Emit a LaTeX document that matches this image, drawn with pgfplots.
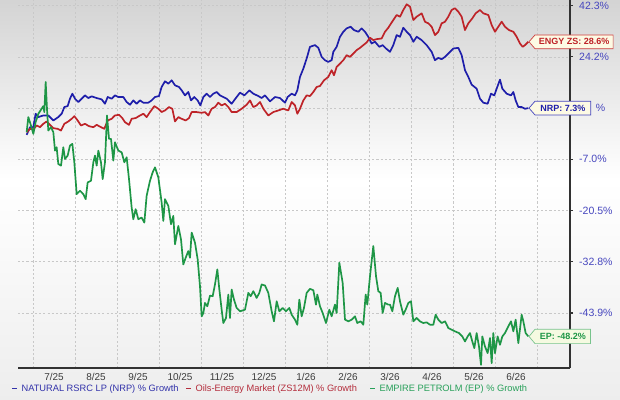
\documentclass[border=0pt]{standalone}
\usepackage{pgfplots}
\pgfplotsset{compat=1.18}
\usepackage{fontspec}
\setmainfont{Liberation Sans}
\usetikzlibrary{calc}
\definecolor{nrp}{RGB}{30,30,170}
\definecolor{engy}{RGB}{190,35,40}
\definecolor{ep}{RGB}{30,150,70}
\definecolor{gridc}{RGB}{200,200,200}
\definecolor{axisc}{RGB}{50,50,50}
\definecolor{ylab}{RGB}{70,70,190}
\definecolor{xlab}{RGB}{60,60,60}
\definecolor{cream}{RGB}{253,250,228}
\definecolor{creamg}{RGB}{245,250,225}
\definecolor{nrpb}{RGB}{70,70,190}
\definecolor{engyb}{RGB}{205,60,60}
\definecolor{epb}{RGB}{120,195,140}
\definecolor{legn}{RGB}{50,50,170}
\definecolor{legr}{RGB}{180,45,60}
\definecolor{legg}{RGB}{40,160,90}
\newcommand\tf{\fontsize{7.1}{8}\selectfont}
\newcommand\yf{\fontsize{7.5}{8.5}\selectfont}
\newcommand\lf{\fontsize{6.4}{7}\selectfont\bfseries}
\newcommand\gf{\fontsize{6.6}{7.5}\selectfont}
\begin{document}
\begin{tikzpicture}
\useasboundingbox (0,0) rectangle (15.5cm,10cm);
\shade[top color=black!17, bottom color=white] (0,5.5cm) rectangle (15.5cm,10cm);
\shade[top color=white, bottom color=black!7] (0,0) rectangle (15.5cm,5.5cm);
\begin{axis}[
  at={(0.45cm,0.8cm)}, anchor=south west,
  scale only axis, width=13.8cm, height=9.2cm,
  xmin=-0.357, xmax=12.786, ymin=-1.074, ymax=6.11,
  axis x line=bottom, axis y line=right,
  x axis line style={-, line width=1.8pt, color=axisc},
  y axis line style={-, line width=1.3pt, color=axisc},
  xtick={0.5,1.5,2.5,3.5,4.5,5.5,6.5,7.5,8.5,9.5,10.5,11.5},
  xticklabels={7/25,8/25,9/25,10/25,11/25,12/25,1/26,2/26,3/26,4/26,5/26,6/26},
  minor xtick={0,1,2,3,4,5,6,7,8,9,10,11,12},
  xminorgrids=true, xmajorgrids=false, ymajorgrids=true,
  minor grid style={gridc, dash pattern=on 1.5pt off 1.5pt, line width=0.4pt},
  major grid style={gridc, dash pattern=on 1.5pt off 1.5pt, line width=0.4pt},
  x tick style={draw=none}, minor tick length=0pt,
  ytick={0,1,2,3,4,5,6},
  yticklabels={-43.9\%,-32.8\%,-20.5\%,-7.0\%,{\hspace*{0.42cm}\%},24.2\%,42.3\%},
  tick align=outside, major tick length=0.075cm,
  y tick style={line width=0.8pt, color=axisc},
  yticklabel style={anchor=west, font=\yf, text=ylab, xshift=0.03cm},
  xticklabel style={font=\tf, text=xlab, inner sep=1.5pt},
  clip=true,
]
\addplot[nrp, line width=1.2pt, line join=round] table {
-0.151 3.477
-0.071 3.627
0.008 3.627
0.063 3.889
0.127 3.824
0.246 3.856
0.365 3.856
0.484 3.758
0.603 3.824
0.683 3.889
0.746 4.020
0.825 4.039
0.881 4.183
0.937 4.281
1.000 4.183
1.079 4.118
1.159 4.183
1.238 4.248
1.317 4.196
1.397 4.229
1.516 4.196
1.635 4.170
1.714 4.085
1.778 4.216
1.873 4.183
1.952 4.248
2.032 4.216
2.151 4.216
2.230 4.118
2.310 4.065
2.389 4.150
2.468 4.085
2.548 4.150
2.627 4.105
2.746 4.105
2.825 4.150
2.905 4.216
3.000 4.235
3.063 4.412
3.143 4.523
3.222 4.477
3.302 4.542
3.381 4.444
3.476 4.412
3.540 4.346
3.619 4.248
3.698 4.314
3.762 4.150
3.841 4.216
3.921 4.150
3.984 4.052
4.056 4.216
4.135 4.281
4.214 4.216
4.294 4.281
4.373 4.314
4.452 4.248
4.532 4.216
4.611 4.183
4.730 4.085
4.849 4.216
4.929 4.301
5.032 4.248
5.151 4.346
5.246 4.281
5.365 4.235
5.444 4.196
5.524 4.248
5.643 4.131
5.762 4.216
5.881 4.196
6.000 4.105
6.063 4.216
6.159 4.281
6.238 4.248
6.294 4.346
6.357 4.608
6.437 4.771
6.516 4.967
6.595 5.196
6.714 5.229
6.794 5.176
6.873 5.000
6.952 4.935
7.032 4.902
7.111 4.935
7.151 5.098
7.230 5.196
7.310 5.392
7.389 5.490
7.468 5.556
7.563 5.588
7.643 5.523
7.746 5.490
7.825 5.556
7.905 5.490
7.984 5.392
8.063 5.261
8.143 5.294
8.246 5.196
8.325 5.229
8.405 5.163
8.500 5.098
8.579 5.229
8.659 5.425
8.738 5.392
8.817 5.569
8.897 5.490
8.976 5.425
9.056 5.294
9.135 5.392
9.254 5.327
9.373 5.229
9.492 5.098
9.571 4.935
9.651 4.980
9.730 4.954
9.810 5.000
9.889 5.065
10.008 5.163
10.127 5.176
10.206 5.033
10.286 4.739
10.365 4.608
10.444 4.458
10.563 4.379
10.643 4.183
10.722 4.105
10.825 4.085
10.905 4.281
10.984 4.248
11.040 4.379
11.119 4.556
11.175 4.379
11.278 4.281
11.381 4.248
11.437 4.314
11.492 4.150
11.556 4.020
11.635 4.020
11.714 3.987
11.794 4.000
};
\addplot[engy, line width=1.2pt, line join=round] table {
-0.151 3.529
-0.071 3.595
0.008 3.582
0.087 3.660
0.167 3.627
0.246 3.693
0.325 3.739
0.405 3.673
0.484 3.608
0.587 3.595
0.667 3.562
0.746 3.693
0.841 3.739
0.921 3.791
0.984 3.843
1.063 3.758
1.143 3.660
1.238 3.693
1.333 3.647
1.437 3.627
1.516 3.673
1.619 3.627
1.698 3.595
1.778 3.758
1.873 3.791
1.952 3.856
2.048 3.869
2.127 3.804
2.190 3.725
2.286 3.673
2.349 3.791
2.444 3.804
2.548 3.856
2.627 3.889
2.706 3.824
2.786 3.922
2.889 4.039
2.984 3.987
3.063 3.922
3.143 3.954
3.238 4.020
3.317 3.987
3.381 3.739
3.460 3.824
3.540 3.791
3.635 3.758
3.714 3.804
3.778 3.922
3.897 3.922
4.016 3.908
4.095 3.922
4.175 3.856
4.254 3.987
4.333 4.020
4.413 4.105
4.492 4.052
4.571 4.085
4.651 4.020
4.730 3.922
4.849 3.922
4.968 3.987
5.087 4.065
5.167 4.150
5.246 4.020
5.325 4.052
5.405 4.118
5.484 3.987
5.603 3.856
5.722 3.922
5.841 3.954
5.960 3.987
6.079 3.954
6.159 4.118
6.238 4.052
6.294 3.889
6.357 3.987
6.437 4.150
6.516 4.248
6.595 4.235
6.675 4.314
6.754 4.412
6.833 4.431
6.929 4.542
7.032 4.608
7.111 4.739
7.167 4.641
7.230 4.804
7.310 4.869
7.389 4.935
7.468 5.033
7.548 5.000
7.627 5.065
7.706 5.131
7.786 5.176
7.865 5.229
7.944 5.281
8.024 5.373
8.103 5.327
8.183 5.346
8.302 5.359
8.381 5.490
8.460 5.569
8.500 5.621
8.579 5.719
8.659 5.817
8.738 5.784
8.817 5.915
8.897 6.026
8.976 5.980
9.056 5.719
9.135 5.784
9.254 5.850
9.333 5.686
9.413 5.654
9.492 5.588
9.571 5.425
9.651 5.490
9.730 5.654
9.810 5.686
9.889 5.784
9.968 5.915
10.048 5.948
10.127 5.882
10.206 5.784
10.286 5.523
10.365 5.654
10.460 5.752
10.540 5.850
10.643 5.915
10.722 5.850
10.841 5.817
10.921 5.621
11.000 5.490
11.079 5.588
11.159 5.686
11.238 5.588
11.333 5.523
11.437 5.490
11.516 5.392
11.595 5.261
11.659 5.196
11.714 5.229
11.794 5.294
};
\addplot[ep, line width=1.2pt, line join=round] table {
-0.151 3.529
-0.111 3.824
-0.048 3.660
0.008 3.497
0.063 3.725
0.127 3.889
0.206 3.987
0.246 4.039
0.270 3.922
0.302 4.510
0.333 3.987
0.365 3.562
0.429 3.627
0.484 3.529
0.524 3.170
0.563 3.235
0.603 2.908
0.667 2.876
0.722 3.235
0.762 3.007
0.825 3.072
0.881 3.268
0.937 3.301
0.984 2.941
1.040 2.320
1.119 2.386
1.198 2.320
1.254 2.222
1.302 2.549
1.381 2.582
1.437 2.941
1.476 3.072
1.516 2.876
1.556 3.170
1.619 2.941
1.659 2.614
1.714 2.941
1.762 3.856
1.810 3.399
1.857 3.399
1.913 2.974
1.952 3.333
2.032 3.170
2.111 3.137
2.175 2.941
2.230 3.039
2.286 2.614
2.349 2.059
2.389 1.830
2.444 2.026
2.508 1.830
2.587 1.863
2.651 1.765
2.706 2.288
2.786 2.582
2.849 2.745
2.905 2.843
2.984 2.647
3.063 2.157
3.103 1.797
3.143 2.222
3.222 2.092
3.286 1.732
3.341 1.895
3.381 1.340
3.460 1.699
3.524 1.438
3.579 0.948
3.635 1.078
3.698 1.209
3.738 1.078
3.778 1.569
3.857 1.373
3.921 1.046
3.976 0.523
4.016 -0.065
4.056 0.000
4.095 0.196
4.151 0.131
4.214 0.340
4.278 0.327
4.333 0.556
4.389 0.850
4.437 0.458
4.492 0.065
4.532 -0.196
4.595 -0.098
4.651 0.359
4.690 -0.098
4.730 0.458
4.786 0.261
4.849 0.098
4.929 0.033
5.048 0.065
5.127 0.392
5.183 0.327
5.246 0.425
5.325 0.294
5.389 0.392
5.444 0.556
5.524 0.536
5.603 0.392
5.683 0.033
5.738 -0.163
5.802 0.229
5.865 0.033
5.944 0.098
6.024 0.033
6.103 0.098
6.159 -0.033
6.238 -0.131
6.294 -0.229
6.341 0.261
6.397 -0.065
6.452 0.098
6.516 0.392
6.595 0.471
6.675 0.444
6.738 0.163
6.770 0.359
6.833 0.131
6.897 0.000
6.976 -0.196
7.056 0.065
7.111 -0.065
7.190 0.163
7.230 0.000
7.294 0.980
7.373 0.588
7.429 -0.131
7.508 -0.163
7.587 -0.131
7.667 -0.065
7.722 -0.196
7.802 -0.163
7.865 -0.229
7.921 0.359
7.960 0.163
8.024 0.719
8.103 1.307
8.167 0.719
8.222 0.425
8.278 0.392
8.325 0.000
8.381 0.196
8.460 0.163
8.500 0.163
8.556 0.033
8.619 0.327
8.683 0.490
8.738 0.229
8.817 -0.033
8.873 0.065
8.937 0.196
9.000 0.229
9.056 -0.163
9.135 -0.098
9.214 -0.163
9.294 -0.196
9.373 -0.183
9.452 -0.229
9.532 -0.229
9.587 -0.033
9.651 -0.131
9.730 -0.196
9.810 -0.163
9.889 -0.294
9.968 -0.327
10.048 -0.359
10.143 -0.392
10.222 -0.458
10.286 -0.556
10.349 -0.458
10.405 -0.392
10.460 -0.556
10.508 -0.686
10.563 -0.392
10.619 -0.654
10.667 -1.013
10.698 -0.458
10.762 -0.654
10.825 -0.784
10.881 -0.490
10.921 -0.980
10.960 -0.392
11.000 -0.784
11.063 -0.458
11.119 -0.621
11.175 -0.458
11.238 -0.392
11.317 -0.261
11.381 -0.163
11.437 -0.359
11.492 -0.131
11.556 -0.588
11.635 -0.033
11.675 -0.163
11.730 -0.392
11.794 -0.458
};
\coordinate (eE) at (axis cs:11.81,5.294);
\coordinate (eN) at (axis cs:11.81,4.000);
\coordinate (eP) at (axis cs:11.81,-0.458);
\end{axis}
% end labels
\node[anchor=west, inner xsep=2.5pt, inner ysep=0pt, minimum height=9.4pt, font=\lf] (bE) at ($(eE)+(0.15cm,0)$) {\phantom{ENGY ZS: 28.6\%}};
\filldraw[draw=engyb, fill=cream, line width=0.5pt] (bE.north west) -- (bE.north east) -- (bE.south east) -- (bE.south west) -- ($(bE.west)+(-0.15cm,0)$) -- cycle;
\node[font=\lf, text=engy, inner sep=0pt] at (bE.center) {ENGY ZS: 28.6\%};
\node[anchor=west, inner xsep=3.6pt, inner ysep=0pt, minimum height=9.4pt, font=\lf] (bN) at ($(eN)+(0.15cm,0)$) {\phantom{NRP: 7.3\%}};
\filldraw[draw=nrpb, fill=cream, line width=0.5pt] (bN.north west) -- (bN.north east) -- (bN.south east) -- (bN.south west) -- ($(bN.west)+(-0.15cm,0)$) -- cycle;
\node[font=\lf, text=nrp, inner sep=0pt] at (bN.center) {NRP: 7.3\%};
\node[anchor=west, inner xsep=3.2pt, inner ysep=0pt, minimum height=9.8pt, font=\lf] (bP) at ($(eP)+(0.15cm,0)$) {\phantom{EP: -48.2\%}};
\filldraw[draw=epb, fill=creamg, line width=0.5pt] (bP.north west) -- (bP.north east) -- (bP.south east) -- (bP.south west) -- ($(bP.west)+(-0.15cm,0)$) -- cycle;
\node[font=\lf, text=ep, inner sep=0pt] at (bP.center) {EP: -48.2\%};
% legend
\node[anchor=west, inner sep=0pt, font=\gf, text=legn] at (0.3cm,0.275cm) {\rule[0.22em]{0.5em}{0.14em}\hspace{0.5em}NATURAL RSRC LP (NRP) \% Growth};
\node[anchor=west, inner sep=0pt, font=\gf, text=legr] at (4.65cm,0.275cm) {\rule[0.22em]{0.5em}{0.14em}\hspace{0.5em}Oils-Energy Market (ZS12M) \% Growth};
\node[anchor=west, inner sep=0pt, font=\gf, text=legg] at (9.25cm,0.275cm) {\rule[0.22em]{0.5em}{0.14em}\hspace{0.5em}EMPIRE PETROLM (EP) \% Growth};
\end{tikzpicture}
\end{document}
